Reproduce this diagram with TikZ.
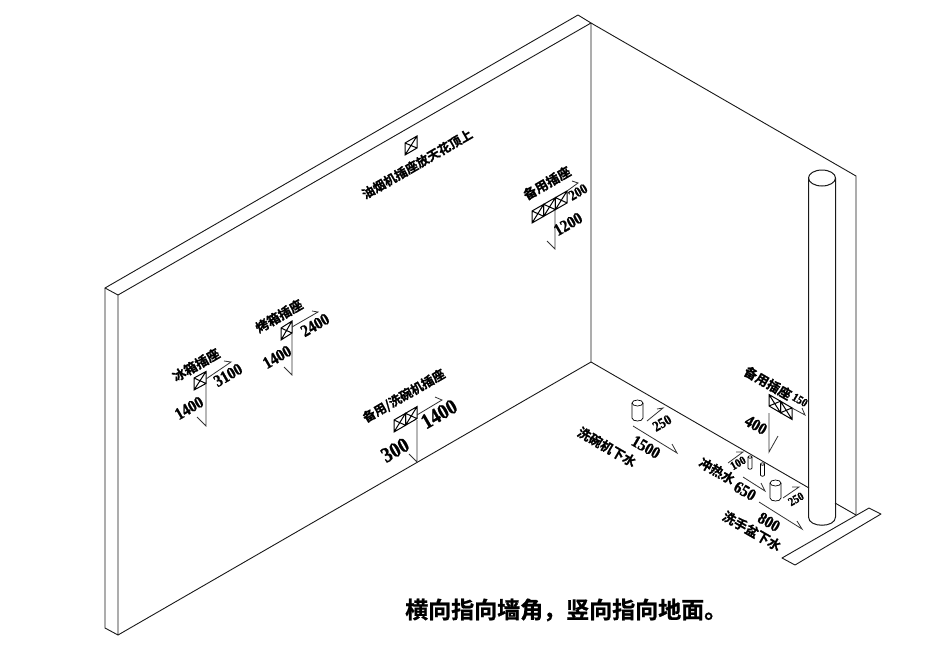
\documentclass[tikz,border=0pt]{standalone}
\usepackage{fontspec}
\newfontfamily\cjk{Noto Sans CJK SC}[BoldFont={Noto Sans CJK SC Bold},BoldFeatures={FakeBold=0.8}]
\newfontfamily\numf{Liberation Serif Bold}[FakeBold=1,FakeStretch=0.88]
\newcommand{\fs}[1]{\fontsize{#1}{#1}\selectfont}
\tikzset{
  wall/.style={line width=0.9pt,black!90,line join=round},
  dim/.style={line width=0.8pt,black!80},
  lab/.style={inner sep=0pt,font=\cjk\bfseries\fs{13}},
  num/.style={inner sep=0pt,font=\numf\fs{17}},
  numm/.style={inner sep=0pt,font=\numf\fs{14.5}},
  numl/.style={inner sep=0pt,font=\numf\fs{21.5}},
  nums/.style={inner sep=0pt,font=\numf\fs{12}},
  box/.style={line width=1pt,black,line join=miter},
}
\newcommand{\outlet}[6]{%
  \foreach \i in {1,...,#6}{%
    \pgfmathsetmacro{\xa}{#1+(\i-1)*#3}\pgfmathsetmacro{\ya}{#2+(\i-1)*#4}%
    \pgfmathsetmacro{\xb}{#1+\i*#3}\pgfmathsetmacro{\yb}{#2+\i*#4}%
    \draw[box] (\xa,\ya) -- (\xb,\yb) -- (\xb,\yb-#5) -- (\xa,\ya-#5) -- cycle
      (\xa,\ya) -- (\xb,\yb-#5) (\xa,\ya-#5) -- (\xb,\yb);
  }}
\newcommand{\cyl}[5]{% cx, ytop, ybot, rx, ry
  \draw[line width=0.7pt] (#1,#2) ellipse [x radius=#4,y radius=#5];
  \draw[line width=0.7pt] (#1-#4,#2) -- (#1-#4,#3) .. controls (#1-#4,#3+#5*1.33) and (#1+#4,#3+#5*1.33) .. (#1+#4,#3) -- (#1+#4,#2);
}
\begin{document}
\begin{tikzpicture}[x=1pt,y=-1pt]
\fill[white] (0,0) rectangle (943,649);
\useasboundingbox (0,0) rectangle (943,649);
% left wall
\draw[wall] (105,288) -- (578,15) -- (591,23) -- (118,295) -- cycle;
\draw[wall] (105,288) -- (105,628) -- (118,635) -- (118,295);
\draw[wall] (118,635) -- (591,362) -- (591,23);
% right wall
\draw[wall] (591,23) -- (856,176) -- (856,515);
\draw[wall] (591,362) -- (809,488);
\draw[wall] (835,503) -- (856,515);
% base plate
\draw[wall] (782,558) -- (795,565) -- (881,514) -- (869,508) -- cycle;
% column
\draw[wall,line width=1pt] (822,178) ellipse [x radius=13.5,y radius=8];
\draw[wall,line width=1pt] (808.5,178) -- (808.5,517) .. controls (808.5,528) and (835.5,528) .. (835.5,517) -- (835.5,178);

% ice box socket
\outlet{194}{390}{12}{-6.5}{12}{1}
\draw[dim] (206,384) -- (206,426) -- (197,417);
\draw[dim] (206,379) -- (231,362) -- (224,361);
\node[lab,rotate=30] (t1) at (196,365) {冰箱插座};
\node[num,rotate=30] (n1a) at (228,375) {3100};
\node[num,rotate=30] (n1b) at (189,408) {1400};

% oven socket
\outlet{281}{340}{11}{-7}{12}{1}
\draw[dim] (292,333) -- (292,375) -- (284,367);
\draw[dim] (292,327) -- (318,312) -- (312,311);
\node[lab,rotate=30] (t2) at (279,316) {烤箱插座};
\node[num,rotate=30] (n2a) at (315,325) {2400};
\node[num,rotate=30] (n2b) at (277,357) {1400};

% hood socket
\outlet{405}{155}{12}{-7}{12}{1}
\node[lab,rotate=30,font=\cjk\bfseries\fs{12.5}] (t3) at (417,164) {油烟机插座放天花顶上};

% upper spare socket
\outlet{532}{223}{11.7}{-6.7}{12}{3}
\draw[dim] (555,210) -- (555,249) -- (547,241);
\draw[dim] (567,191) -- (578,183) -- (572,181);
\node[lab,rotate=30] (t4) at (547,183) {备用插座};
\node[numm,rotate=30] (n4a) at (578,192) {200};
\node[num,rotate=30] (n4b) at (568,224) {1200};

% middle socket
\outlet{394}{432}{11.5}{-6.7}{12}{2}
\draw[dim] (417,420) -- (417,462) -- (409,454);
\draw[dim] (417,415) -- (442,400) -- (435,397);
\node[lab,rotate=30,font=\cjk\bfseries\fs{12.5}] (t5) at (404,396) {备用/洗碗机插座};
\node[numl,rotate=30] (n5a) at (439,414) {1400};
\node[numl,rotate=30] (n5b) at (395,450) {300};

% dishwasher drain
\cyl{637.5}{403}{418}{5.5}{3}
\draw[dim] (647,421) -- (663,408) -- (657,409);
\draw[dim] (633,426) -- (677,453) -- (672,444);
\node[numm,rotate=30] (n6a) at (662,423) {250};
\node[num,rotate=-30] (n6b) at (646,447) {1500};
\node[lab,rotate=-30] (t6) at (607,447) {洗碗机下水};

% right wall spare socket
\outlet{769}{406}{11.5}{6.7}{11.5}{2}
\draw[dim] (792,408) -- (805,415) -- (802,408);
\draw[dim] (769,413) -- (769,452) -- (778,436);
\node[lab,rotate=-30] (t7) at (768,383) {备用插座};
\node[nums,rotate=-30] (n7a) at (800,400) {150};
\node[num,rotate=-30] (n7b) at (756,425) {400};

% hot / cold water
\cyl{750}{457}{468}{2}{1.2}
\cyl{762.5}{464}{475}{2}{1.2}
\draw[dim] (728,463) -- (743,452) -- (736,452);
\draw[dim] (743,477) -- (765,491) -- (761,483);
\node[nums,rotate=30] (n8a) at (738,463) {100};
\node[lab,rotate=-30] (t8) at (717,471) {冲热水};
\node[num,rotate=-30] (n8b) at (745,491) {650};

% basin drain
\cyl{775.5}{483}{498}{5.5}{3}
\draw[dim] (783,498) -- (799,487) -- (792,487);
\draw[dim] (759,502) -- (802,529) -- (797,521);
\node[nums,rotate=30] (n9a) at (796,499) {250};
\node[num,rotate=-30] (n9b) at (769,522) {800};
\node[lab,rotate=-30] (t9) at (752,531) {洗手盆下水};

% caption
\node[inner sep=0pt,font=\cjk\bfseries\fs{23},anchor=west] (cap) at (405,610) {横向指向墙角，竖向指向地面。};
\end{tikzpicture}
\end{document}
